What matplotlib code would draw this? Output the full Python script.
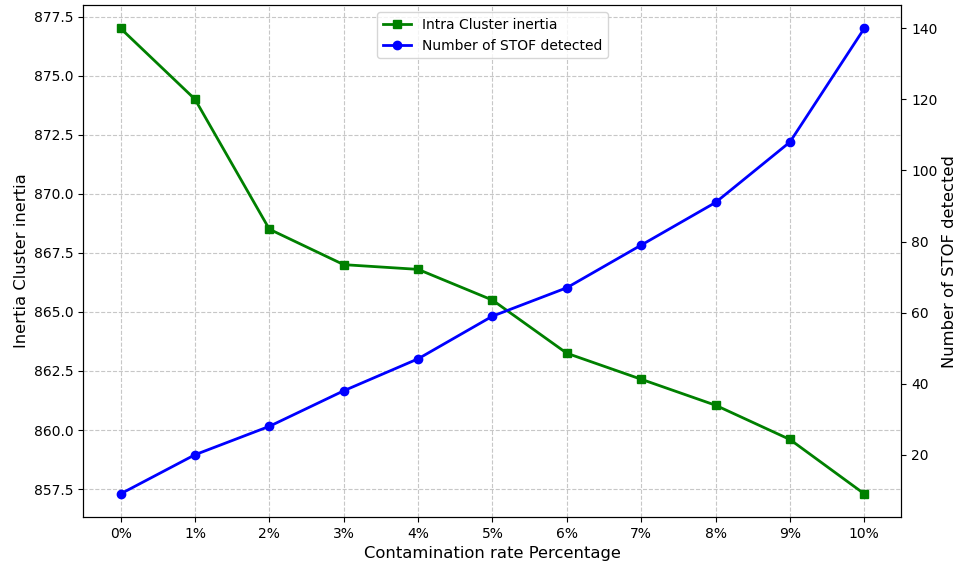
import matplotlib
matplotlib.use("Agg")
import matplotlib.pyplot as plt

rates = ["0%", "1%", "2%", "3%", "4%", "5%", "6%", "7%", "8%", "9%", "10%"]
inertia = [877.0, 874.0, 868.5, 867.0, 866.8, 865.5, 863.25, 862.15, 861.05, 859.6, 857.3]
n_stof = [9, 20, 28, 38, 47, 59, 67, 79, 91, 108, 140]

x = list(range(len(rates)))

fig, ax1 = plt.subplots(figsize=(9.59, 5.67), dpi=100)
fig.subplots_adjust(left=0.087, right=0.94, top=0.991, bottom=0.088)

l1, = ax1.plot(x, inertia, color="green", marker="s", linewidth=2, label="Intra Cluster inertia")
ax1.set_xlabel("Contamination rate Percentage", fontsize=11.8)
ax1.set_ylabel("Inertia Cluster inertia", fontsize=11.8)
ax1.set_xticks(x)
ax1.set_xticklabels(rates)
ax1.grid(True, linestyle="--", alpha=0.7)

ax2 = ax1.twinx()
l2, = ax2.plot(x, n_stof, color="blue", marker="o", linewidth=2, label="Number of STOF detected")
ax2.set_ylabel("Number of STOF detected", fontsize=11.8, labelpad=3)

ax1.legend(handles=[l1, l2], loc="upper center")

plt.savefig("out.png", dpi=100)
